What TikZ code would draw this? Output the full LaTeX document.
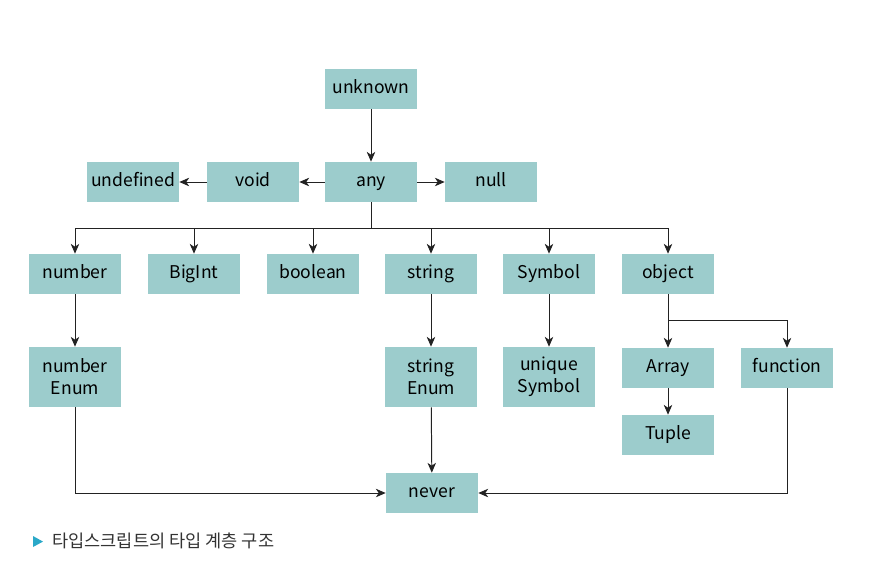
\documentclass[tikz,border=0pt]{standalone}
\usepackage{fontspec}
\setmainfont{Noto Sans CJK KR}
\usepackage{tikz}
\usetikzlibrary{arrows.meta}

\definecolor{boxfill}{HTML}{9CCCCC}
\definecolor{linegray}{HTML}{222222}
\definecolor{capblue}{HTML}{2AA8C8}
\definecolor{captext}{HTML}{333333}

\begin{document}
\begin{tikzpicture}[
		scale=1,
		every node/.style={inner sep=0pt, font=\fontsize{12.5}{15.5}\selectfont},
		tbox/.style={rectangle, fill=boxfill, minimum width=2.3cm, minimum height=1cm, align=center, text height=0.74em, text depth=0.16em},
		tall/.style={rectangle, fill=boxfill, minimum width=2.3cm, minimum height=1.5cm, align=center},
		link/.style={draw=linegray, line width=0.7pt},
		arr/.style={link, -{Stealth[length=7pt, width=6pt, inset=2pt]}}
	]
  \useasboundingbox (0cm, 0cm) rectangle (22.375cm, -14.575cm);
  % top
  \node (unknown) [tbox] at (9.275cm, -2.225cm) {unknown};
  \node (any) [tbox] at (9.275cm, -4.55cm) {any};
  \node (void) [tbox] at (6.325cm, -4.55cm) {void};
  \node (undefined) [tbox] at (3.325cm, -4.55cm) {undefined};
  \node (null) [tbox] at (12.275cm, -4.55cm) {null};
  % second row
  \node (number) [tbox] at (1.875cm, -6.85cm) {number};
  \node (bigint) [tbox] at (4.85cm, -6.85cm) {BigInt};
  \node (boolean) [tbox] at (7.825cm, -6.85cm) {boolean};
  \node (string) [tbox] at (10.775cm, -6.85cm) {string};
  \node (symbol) [tbox] at (13.725cm, -6.85cm) {Symbol};
  \node (object) [tbox] at (16.7cm, -6.85cm) {object};
  % third row
  \node (number_enum) [tall] at (1.875cm, -9.425cm) {number\\Enum};
  \node (string_enum) [tall] at (10.775cm, -9.425cm) {string\\Enum};
  \node (unique_symbol) [tall] at (13.725cm, -9.425cm) {unique\\Symbol};
  \node (array) [tbox] at (16.7cm, -9.2cm) {Array};
  \node (function) [tbox] at (19.675cm, -9.2cm) {function};
  \node (tuple) [tbox] at (16.7cm, -10.875cm) {Tuple};
  \node (never) [tbox] at (10.8cm, -12.325cm) {never};
  \coordinate (any_hub) at (9.275cm, -5.7cm);
  \coordinate (object_hub) at (16.7cm, -8cm);
  % caption
  \fill[capblue] (0.825cm, -13.4cm) -- (0.825cm, -13.675cm) -- (1.075cm, -13.54cm) -- cycle;
  \node (caption) [anchor=west, text=captext, font=\fontsize{12.5}{15}\selectfont] at (1.3cm, -13.525cm) {타입스크립트의 타입 계층 구조};
  % connectors
  \draw[arr] (unknown) -- (any);
  \draw[arr] (any) -- (void);
  \draw[arr] (void) -- (undefined);
  \draw[arr] (any) -- (null);
  \draw[link] (any) -- (any_hub);
  \foreach \t in {number, bigint, boolean, string, symbol, object}
    \draw[arr] (any_hub) -| (\t);
  \draw[arr] (number) -- (number_enum);
  \draw[arr] (string) -- (string_enum);
  \draw[arr] (symbol) -- (unique_symbol);
  \draw[arr] (object) -- (array);
  \draw[arr] (object_hub) -| (function);
  \draw[arr] (array) -- (tuple);
  \draw[arr] (number_enum) |- (never);
  \draw[arr] (string_enum) -- (never);
  \draw[arr] (function) |- (never);
\end{tikzpicture}
\end{document}
